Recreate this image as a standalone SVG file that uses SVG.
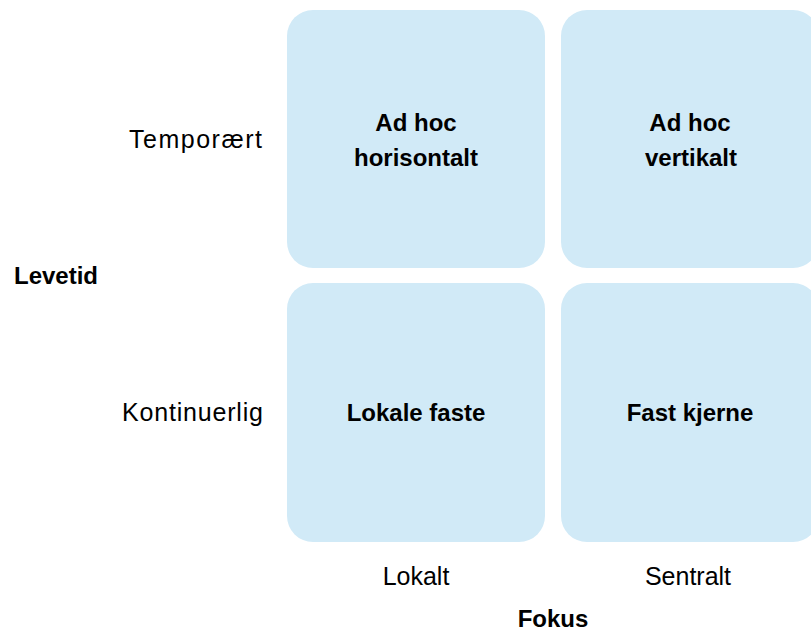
<svg xmlns="http://www.w3.org/2000/svg" width="811" height="632" viewBox="0 0 811 632">
  <style>
    .box { fill: #D1EAF7; }
    .lbl { font-family: "Liberation Sans", Arial, sans-serif; font-size: 25px; fill: #000; }
    .bold { font-family: "Liberation Sans", Arial, sans-serif; font-size: 24px; font-weight: bold; fill: #000; }
    .mid { text-anchor: middle; }
    .end { text-anchor: end; }
  </style>
  <rect width="811" height="632" fill="#FFFFFF"/>
  <g id="node-adhoc-horisontalt">
    <rect class="box" x="287" y="10" width="258" height="258" rx="26" ry="26"/>
    <text class="bold mid" x="416" y="131">Ad hoc</text>
    <text class="bold mid" x="416" y="166">horisontalt</text>
  </g>
  <g id="node-adhoc-vertikalt">
    <rect class="box" x="561" y="10" width="258" height="258" rx="26" ry="26"/>
    <text class="bold mid" x="690" y="131">Ad hoc</text>
    <text class="bold mid" x="691" y="166">vertikalt</text>
  </g>
  <g id="node-lokale-faste">
    <rect class="box" x="287" y="283" width="258" height="259" rx="26" ry="26"/>
    <text class="bold mid" x="416" y="421">Lokale faste</text>
  </g>
  <g id="node-fast-kjerne">
    <rect class="box" x="561" y="283" width="258" height="259" rx="26" ry="26"/>
    <text class="bold mid" x="690" y="421">Fast kjerne</text>
  </g>
  <g id="connectors"></g>
  <g id="axis-labels">
    <text class="lbl end" x="262" y="148" textLength="133" lengthAdjust="spacing">Temporært</text>
    <text class="lbl end" x="263" y="421" textLength="141" lengthAdjust="spacing">Kontinuerlig</text>
    <text class="bold" x="14" y="284">Levetid</text>
    <text class="lbl mid" x="416" y="585">Lokalt</text>
    <text class="lbl mid" x="688" y="585">Sentralt</text>
    <text class="bold mid" x="553" y="627">Fokus</text>
  </g>
</svg>
